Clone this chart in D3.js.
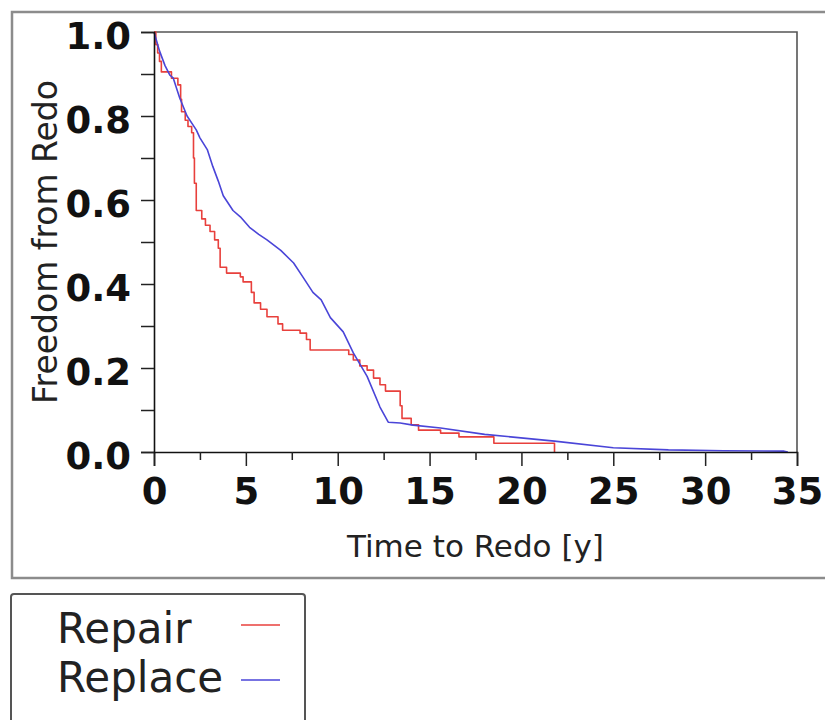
<!DOCTYPE html>
<html>
<head>
<meta charset="utf-8">
<script src="https://cdn.jsdelivr.net/npm/d3@7"></script>
<style>
  html, body { margin: 0; padding: 0; background: #ffffff; }
  svg { display: block; }
</style>
</head>
<body>
<svg id="chart" width="825" height="720"></svg>
<script>
// ---- data ----
const seriesNames = ["Repair", "Replace"];
const seriesColors = ["#e8403c", "#4a45d8"];

const repairTime = [0, 0.1, 0.2, 0.3, 0.4, 0.95, 1.3, 1.45, 1.5, 1.7, 1.85, 2.05, 2.15, 2.2, 2.3, 2.6, 2.8, 3.05, 3.3, 3.5, 3.6, 3.95, 4.7, 4.85, 5.3, 5.45, 5.8, 6.15, 6.75, 7.0, 7.95, 8.3, 8.5, 10.6, 10.85, 11.2, 11.6, 11.95, 12.3, 12.6, 13.4, 13.5, 14.0, 14.4, 15.6, 16.6, 18.5, 21.8];
const repairSurv = [1.0, 0.97, 0.95, 0.93, 0.905, 0.89, 0.874, 0.84, 0.81, 0.79, 0.775, 0.76, 0.70, 0.64, 0.575, 0.555, 0.54, 0.525, 0.505, 0.485, 0.44, 0.426, 0.417, 0.405, 0.38, 0.355, 0.34, 0.322, 0.305, 0.29, 0.283, 0.268, 0.243, 0.232, 0.219, 0.205, 0.195, 0.176, 0.16, 0.145, 0.11, 0.08, 0.065, 0.052, 0.045, 0.036, 0.021, 0.0];

const replaceTime = [0, 0.3, 0.6, 0.87, 1.05, 1.4, 1.8, 2.3, 2.5, 2.9, 3.2, 3.5, 3.77, 4.3, 4.7, 5.2, 5.7, 6.15, 6.9, 7.6, 8.1, 8.65, 9.1, 9.6, 10.3, 10.85, 11.6, 12.3, 12.75, 13.4, 14.1, 15.6, 18.0, 21.8, 25.0, 28.0, 31.0, 34.3, 34.5];
const replaceSurv = [1.0, 0.955, 0.92, 0.897, 0.89, 0.843, 0.8, 0.767, 0.748, 0.72, 0.68, 0.645, 0.61, 0.575, 0.56, 0.535, 0.518, 0.505, 0.48, 0.45, 0.417, 0.38, 0.362, 0.32, 0.286, 0.236, 0.18, 0.107, 0.071, 0.069, 0.064, 0.057, 0.042, 0.026, 0.01, 0.005, 0.003, 0.002, 0.0];

const xMajorTicks = [0, 5, 10, 15, 20, 25, 30, 35];
const xMinorTicks = [2.5, 7.5, 12.5, 17.5, 22.5, 27.5, 32.5];
const yMajorTicks = [0, 0.2, 0.4, 0.6, 0.8, 1.0];
const yMinorTicks = [0.1, 0.3, 0.5, 0.7, 0.9];

const xTitle = "Time to Redo [y]";
const yTitle = "Freedom from Redo";

// ---- layout ----
const svg = d3.select("#chart");
const plot = { left: 154, right: 797, top: 32, bottom: 452 };

const x = d3.scaleLinear().domain([0, 35]).range([plot.left, plot.right]);
const y = d3.scaleLinear().domain([0, 1]).range([plot.bottom, plot.top]);

// outer frame
svg.append("rect")
  .attr("x", 12).attr("y", 12)
  .attr("width", 830).attr("height", 566)
  .attr("fill", "none").attr("stroke", "#8c8c8c").attr("stroke-width", 2.5);

// plot frame (top / right)
svg.append("path")
  .attr("d", `M${plot.left},${plot.top}H${plot.right}V${plot.bottom}`)
  .attr("fill", "none").attr("stroke", "#555").attr("stroke-width", 1.6);

// curves
const series = [
  { name: seriesNames[0], color: seriesColors[0], pts: repairTime.map((t, i) => [t, repairSurv[i]]), curve: d3.curveStepAfter },
  { name: seriesNames[1], color: seriesColors[1], pts: replaceTime.map((t, i) => [t, replaceSurv[i]]), curve: d3.curveLinear }
];

series.forEach(s => {
  const line = d3.line().x(d => x(d[0])).y(d => y(d[1])).curve(s.curve);
  svg.append("path")
    .datum(s.pts)
    .attr("d", line)
    .attr("fill", "none")
    .attr("stroke", s.color)
    .attr("stroke-width", 1.6)
    .attr("stroke-linejoin", "round");
});

// axes
const tickFont = "'DejaVu Sans', sans-serif";

const xAxisG = svg.append("g").attr("transform", `translate(0,${plot.bottom})`)
  .call(d3.axisBottom(x).tickValues(xMajorTicks).tickSize(14).tickPadding(12).tickFormat(d3.format("d")));
svg.append("g").attr("transform", `translate(0,${plot.bottom})`)
  .call(d3.axisBottom(x).tickValues(xMinorTicks).tickSize(8).tickFormat(""))
  .call(g => g.select(".domain").remove());

const yAxisG = svg.append("g").attr("transform", `translate(${plot.left},0)`)
  .call(d3.axisLeft(y).tickValues(yMajorTicks).tickSize(13).tickPadding(10).tickFormat(d3.format(".1f")));
svg.append("g").attr("transform", `translate(${plot.left},0)`)
  .call(d3.axisLeft(y).tickValues(yMinorTicks).tickSize(13).tickFormat(""))
  .call(g => g.select(".domain").remove());

svg.selectAll(".tick line").attr("stroke", "#222").attr("stroke-width", 1.5);
svg.selectAll(".domain").attr("stroke", "#111").attr("stroke-width", 1.6);

xAxisG.selectAll("text")
  .attr("font-family", tickFont).attr("font-weight", "bold").attr("font-size", 37).attr("fill", "#111");
yAxisG.selectAll("text")
  .attr("font-family", tickFont).attr("font-weight", "bold").attr("font-size", 37).attr("fill", "#111")
  .attr("dy", "0.45em");

// titles
svg.append("text")
  .attr("x", (plot.left + plot.right) / 2).attr("y", 557)
  .attr("text-anchor", "middle")
  .attr("font-family", tickFont).attr("font-size", 31).attr("fill", "#222")
  .text(xTitle);

svg.append("text")
  .attr("transform", `translate(57,${(plot.top + plot.bottom) / 2}) rotate(-90)`)
  .attr("text-anchor", "middle")
  .attr("font-family", tickFont).attr("font-size", 33).attr("fill", "#222")
  .text(yTitle);

// legend
svg.append("rect")
  .attr("x", 11).attr("y", 594).attr("width", 294).attr("height", 150).attr("rx", 3)
  .attr("fill", "#fff").attr("stroke", "#555").attr("stroke-width", 2);

const legendBaselines = [643, 692];
const legendLineY = [625, 680];
series.forEach((s, i) => {
  svg.append("text")
    .attr("x", 57).attr("y", legendBaselines[i])
    .attr("font-family", tickFont).attr("font-size", 42).attr("fill", "#222")
    .text(s.name);
  svg.append("line")
    .attr("x1", 241).attr("x2", 280)
    .attr("y1", legendLineY[i]).attr("y2", legendLineY[i])
    .attr("stroke", s.color).attr("stroke-width", 1.6);
});
</script>
</body>
</html>
